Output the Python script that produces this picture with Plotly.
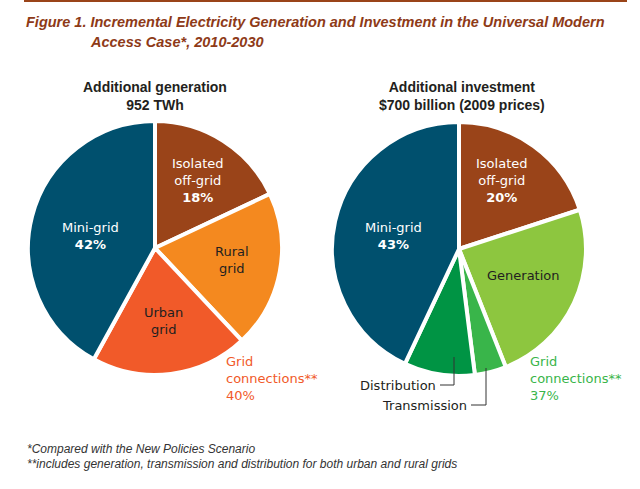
import plotly.graph_objects as go

W, H = 640, 489

# ---- data ----
gen_labels = ["Isolated off-grid", "Rural grid", "Urban grid", "Mini-grid"]
gen_values = [18, 20, 20, 42]
gen_colors = ["#9a4419", "#f4891f", "#f15a29", "#00506e"]

inv_labels = ["Isolated off-grid", "Generation", "Transmission", "Distribution", "Mini-grid"]
inv_values = [20, 24, 4, 9, 43]
inv_colors = ["#9a4419", "#8dc63f", "#39b54a", "#009444", "#00506e"]

gen_grid_share = 40
inv_grid_share = 37

title_line1 = "Figure 1. Incremental Electricity Generation and Investment in the Universal Modern"
title_line2 = "Access Case*, 2010-2030"
left_sub = "Additional generation<br>952 TWh"
right_sub = "Additional investment<br>$700 billion (2009 prices)"
foot1 = "*Compared with the New Policies Scenario"
foot2 = "**includes generation, transmission and distribution for both urban and rural grids"

FONT = "Liberation Sans, Arial, sans-serif"
LFONT = "DejaVu Sans, sans-serif"


def px(x):
    return x / W


def py(y):
    return 1 - y / H


def dom(cx, cy, r):
    return dict(x=[px(cx - r), px(cx + r)], y=[py(cy + r), py(cy - r)])


fig = go.Figure()
fig.add_trace(go.Pie(
    labels=gen_labels, values=gen_values, sort=False, direction="clockwise",
    rotation=0, marker=dict(colors=gen_colors, line=dict(color="white", width=4)),
    textinfo="none", hoverinfo="label+percent", domain=dom(155, 248, 127),
    showlegend=False,
))
fig.add_trace(go.Pie(
    labels=inv_labels, values=inv_values, sort=False, direction="clockwise",
    rotation=0, marker=dict(colors=inv_colors, line=dict(color="white", width=4)),
    textinfo="none", hoverinfo="label+percent", domain=dom(459, 249, 127),
    showlegend=False,
))

ann = []


def add(text, x, y, color="#231f20", size=13, xanchor="center", align="center",
        bold=False, italic=False, family=LFONT):
    if bold:
        text = "<b>" + text + "</b>"
    if italic:
        text = "<i>" + text + "</i>"
    ann.append(dict(text=text, x=px(x), y=py(y), xref="paper", yref="paper",
                    xanchor=xanchor, yanchor="middle", align=align, showarrow=False,
                    font=dict(family=family, size=size, color=color)))


# titles
add(title_line1, 24, 22, color="#8e3a17", size=14.5, xanchor="left", bold=True, italic=True, family=FONT)
add(title_line2, 88, 42, color="#8e3a17", size=14.5, xanchor="left", bold=True, italic=True, family=FONT)
add(left_sub, 155, 96, size=14, bold=True, family=FONT)
add(right_sub, 462, 96, size=14, bold=True, family=FONT)

# left pie labels
add("Isolated<br>off-grid<br><b>%d%%</b>" % gen_values[0], 198, 181, color="white")
add("Mini-grid<br><b>%d%%</b>" % gen_values[3], 90, 236, color="white")
add("Rural<br>grid", 232, 260)
add("Urban<br>grid", 163, 321)
add("Grid<br>connections**<br>%d%%" % gen_grid_share, 224, 378, color="#f15a29",
    xanchor="left", align="left")

# right pie labels
add("Isolated<br>off-grid<br><b>%d%%</b>" % inv_values[0], 502, 181, color="white")
add("Mini-grid<br><b>%d%%</b>" % inv_values[4], 393, 236, color="white")
add("Generation", 523, 275)
add("Grid<br>connections**<br>%d%%" % inv_grid_share, 528, 378, color="#39b54a",
    xanchor="left", align="left")
add("Distribution", 438, 385, xanchor="right")
add("Transmission", 469, 405, xanchor="right")

# footnotes
add(foot1, 25, 449, color="#333333", size=12, xanchor="left", italic=True, family=FONT)
add(foot2, 25, 464, color="#333333", size=12, xanchor="left", italic=True, family=FONT)

shapes = []


def seg(x0, y0, x1, y1, color="#333333", width=1):
    shapes.append(dict(type="line", xref="paper", yref="paper",
                       x0=px(x0), y0=py(y0), x1=px(x1), y1=py(y1),
                       line=dict(color=color, width=width)))


# top rule
shapes.append(dict(type="rect", xref="paper", yref="paper", layer="above",
                   x0=px(24), x1=px(627), y0=py(2), y1=1,
                   fillcolor="#9a4419", line=dict(width=0)))
seg(440, 385, 454, 385)
seg(454, 385, 454, 357)
seg(471, 405, 486, 405)
seg(486, 405, 486, 368)

fig.update_layout(
    width=W, height=H, margin=dict(l=0, r=0, t=0, b=0),
    paper_bgcolor="white", plot_bgcolor="white",
    annotations=ann, shapes=shapes, showlegend=False,
)

fig.write_html(
    "out.html",
    config={"displayModeBar": False},
    post_script="document.body.style.margin='0';document.body.style.overflow='hidden';",
)
